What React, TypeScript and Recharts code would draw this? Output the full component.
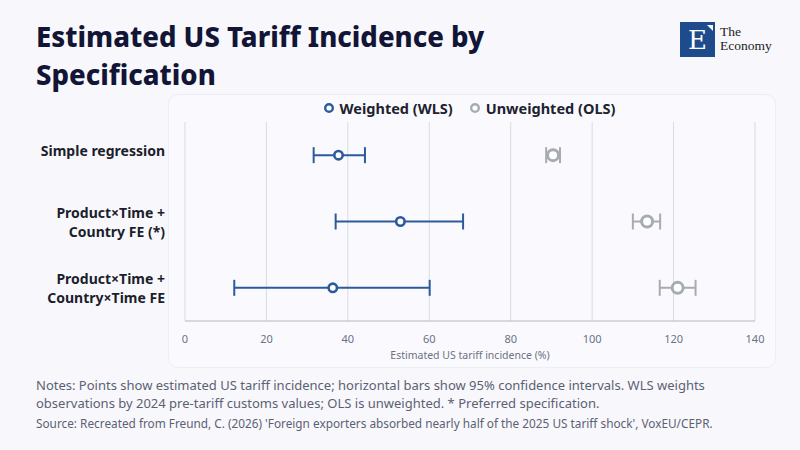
import React from 'react';
import {
  ScatterChart,
  Scatter,
  XAxis,
  YAxis,
  CartesianGrid,
  ErrorBar,
} from 'recharts';

const specifications = [
  'Simple regression',
  'Product×Time +\nCountry FE (*)',
  'Product×Time +\nCountry×Time FE',
];

// point estimate, lower CI, upper CI
const wlsEstimate = [37.7, 52.9, 36.3];
const wlsLow = [31.6, 37.0, 12.1];
const wlsHigh = [44.2, 68.3, 60.1];

const olsEstimate = [90.4, 113.5, 121.0];
const olsLow = [88.7, 110.0, 116.6];
const olsHigh = [92.1, 116.7, 125.4];

const xTicks = [0, 20, 40, 60, 80, 100, 120, 140];

const WLS_COLOR = '#2c5a9c';
const OLS_COLOR = '#a6acb1';
const FONT = '"Noto Sans", "Open Sans", sans-serif';

const toRows = (est: number[], lo: number[], hi: number[]) =>
  est.map((v, i) => ({ row: i, value: v, err: [v - lo[i], hi[i] - v] }));

const wlsData = toRows(wlsEstimate, wlsLow, wlsHigh);
const olsData = toRows(olsEstimate, olsLow, olsHigh);

const SpecTick = (props: any) => {
  const { x, y, payload } = props;
  const lines = String(specifications[payload.value] ?? '').split('\n');
  const offsets = lines.length === 1 ? [1] : [-4, 15];
  const tx = x - 12;
  return (
    <text x={tx} y={y} textAnchor="end" fill="#1c1e2c" fontSize={14} fontWeight={700} fontFamily={FONT}>
      {lines.map((l, i) => (
        <tspan key={i} x={tx} y={y + offsets[i]}>
          {l}
        </tspan>
      ))}
    </text>
  );
};

const ringShape = (r: number, sw: number, color: string) => (props: any) => (
  <circle cx={props.cx} cy={props.cy} r={r} fill="#ffffff" stroke={color} strokeWidth={sw} />
);

const LegendItem = ({ color, label }: { color: string; label: string }) => (
  <div style={{ display: 'flex', alignItems: 'center', gap: 5 }}>
    <svg width={12} height={12}>
      <circle cx={6} cy={6} r={3.8} fill="#fff" stroke={color} strokeWidth={2.4} />
    </svg>
    <span>{label}</span>
  </div>
);

export default function App() {
  return (
    <div
      style={{
        position: 'relative',
        width: 800,
        height: 450,
        background: '#f8f8fc',
        fontFamily: FONT,
        overflow: 'hidden',
      }}
    >
      <style>{'body{margin:0}'}</style>

      <div
        style={{
          position: 'absolute',
          left: 36,
          top: 18,
          fontSize: 27.5,
          fontWeight: 800,
          lineHeight: '38px',
          color: '#131536',
        }}
      >
        Estimated US Tariff Incidence by
        <br />
        Specification
      </div>

      {/* logo */}
      <div style={{ position: 'absolute', left: 680, top: 22, width: 35, height: 35, background: '#1d4b8b' }}>
        <div
          style={{
            position: 'absolute',
            left: 0,
            top: 2,
            width: 35,
            textAlign: 'center',
            color: '#fff',
            fontFamily: '"DejaVu Serif", "Liberation Serif", serif',
            fontSize: 26,
            lineHeight: '32px',
          }}
        >
          E
        </div>
        <svg width={35} height={35} style={{ position: 'absolute', left: 0, top: 0 }}>
          <polygon points="27,3 33,3 33,9" fill="#fff" />
        </svg>
      </div>
      <div
        style={{
          position: 'absolute',
          left: 720,
          top: 25,
          fontFamily: '"Liberation Serif", "DejaVu Serif", serif',
          fontSize: 13.5,
          lineHeight: '14px',
          color: '#222',
        }}
      >
        The
        <br />
        Economy
      </div>

      {/* card */}
      <div
        style={{
          position: 'absolute',
          left: 168,
          top: 94,
          width: 606,
          height: 272,
          background: '#fafafe',
          border: '1px solid #eceef5',
          borderRadius: 10,
        }}
      />

      <div
        style={{
          position: 'absolute',
          left: 0,
          top: 98,
          width: 938,
          display: 'flex',
          justifyContent: 'center',
          gap: 16,
          fontSize: 14.5,
          fontWeight: 700,
          color: '#20222e',
        }}
      >
        <LegendItem color={WLS_COLOR} label="Weighted (WLS)" />
        <LegendItem color={OLS_COLOR} label="Unweighted (OLS)" />
      </div>

      <div style={{ position: 'absolute', left: 0, top: 0 }}>
        <ScatterChart width={800} height={450} margin={{ top: 122, right: 45, bottom: 89, left: 10 }}>
          <CartesianGrid horizontal={false} stroke="#d9dbe3" />
          <XAxis
            type="number"
            dataKey="value"
            domain={[0, 140]}
            ticks={xTicks}
            height={40}
            stroke="#b5b8c0"
            tickLine={false}
            tickMargin={8}
            tick={{ fontSize: 11, fill: '#6b7185', fontFamily: FONT }}
            label={{
              value: 'Estimated US tariff incidence (%)',
              position: 'insideBottom',
              offset: 2,
              fontSize: 10.5,
              fill: '#6b7185',
              fontFamily: FONT,
            }}
          />
          <YAxis
            type="number"
            dataKey="row"
            domain={[-0.5, 2.5]}
            ticks={[0, 1, 2]}
            reversed
            width={175}
            axisLine={false}
            tickLine={false}
            tick={<SpecTick />}
          />
          <Scatter data={olsData} isAnimationActive={false} shape={ringShape(5.5, 3, OLS_COLOR)}>
            <ErrorBar dataKey="err" direction="x" width={8} stroke={OLS_COLOR} strokeWidth={2} />
          </Scatter>
          <Scatter data={wlsData} isAnimationActive={false} shape={ringShape(4.2, 2.6, WLS_COLOR)}>
            <ErrorBar dataKey="err" direction="x" width={8} stroke={WLS_COLOR} strokeWidth={2} />
          </Scatter>
        </ScatterChart>
      </div>

      <div
        style={{
          position: 'absolute',
          left: 36,
          top: 376,
          width: 740,
          fontSize: 13,
          lineHeight: '18px',
          color: '#5b6173',
        }}
      >
        Notes: Points show estimated US tariff incidence; horizontal bars show 95% confidence intervals. WLS weights
        observations by 2024 pre-tariff customs values; OLS is unweighted. * Preferred specification.
      </div>
      <div
        style={{
          position: 'absolute',
          left: 36,
          top: 415,
          fontSize: 11.8,
          color: '#5b6173',
          whiteSpace: 'nowrap',
        }}
      >
        Source: Recreated from Freund, C. (2026) 'Foreign exporters absorbed nearly half of the 2025 US tariff shock',
        VoxEU/CEPR.
      </div>
    </div>
  );
}
